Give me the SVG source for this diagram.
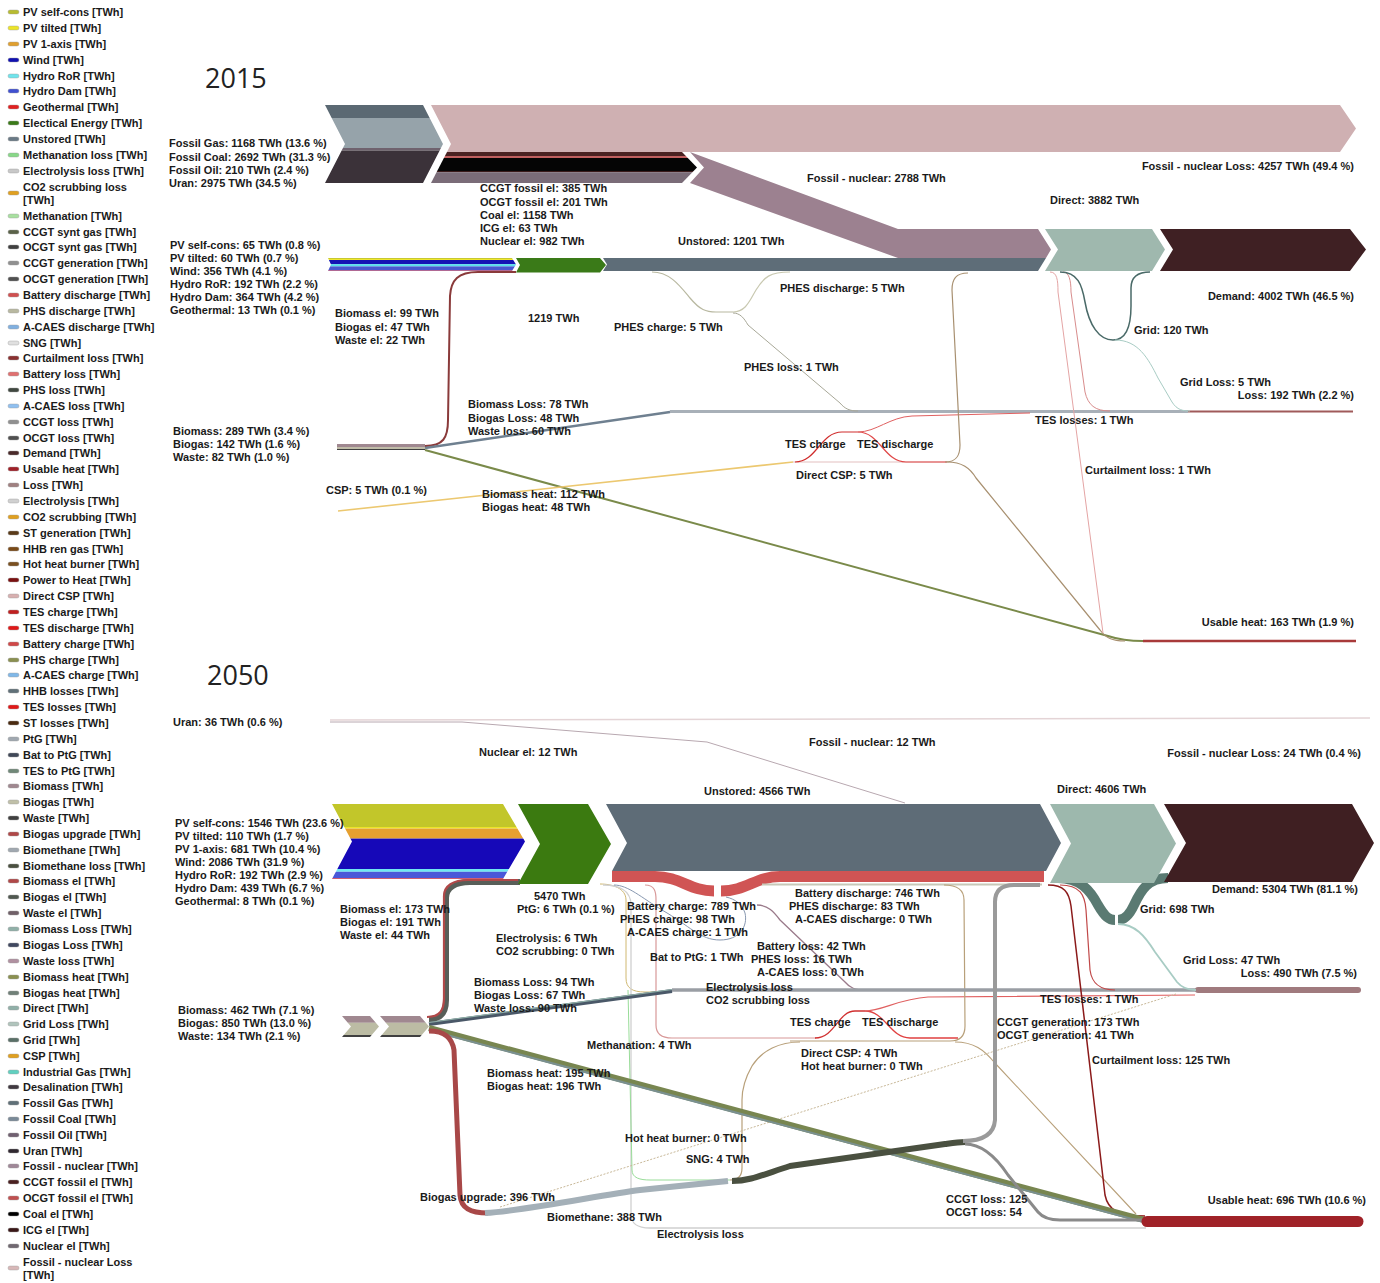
<svg xmlns="http://www.w3.org/2000/svg" width="1380" height="1283" viewBox="0 0 1380 1283">
<style>
.t{font-family:"Liberation Sans",Arial,sans-serif;font-weight:bold;font-size:11px;fill:#1a1a1a}
.e{text-anchor:end}
.yr{font-family:"Open Sans","Liberation Sans",sans-serif;font-size:27px;fill:#222}
.f{fill:none;stroke-linejoin:round}
.sw{stroke:#999;stroke-width:0.4}
</style>
<defs>
<clipPath id="c15fos"><polygon points="325,105 423,105 443,144 423,183 325,183 345,144"/></clipPath>
<clipPath id="c15fnl"><polygon points="447,152 682,152 697,167.5 682,183 431,183"/></clipPath>
<clipPath id="c15ren"><polygon points="328,258 512,258 516,264.5 512,271 328,271 331,264.5"/></clipPath>
<clipPath id="c15bio"><rect x="337" y="444" width="88" height="6"/></clipPath>
<clipPath id="c50ren"><polygon points="332,804 503,804 525,841.5 503,879 332,879 352,841.5"/></clipPath>
<clipPath id="c50bio"><polygon points="342,1016 370,1016 379,1026.5 370,1037 342,1037 351,1026.5 342,1016 380,1016 420,1016 429,1026.5 420,1037 380,1037 389,1026.5 380,1016"/></clipPath>
</defs>
<rect width="1380" height="1283" fill="#fff"/>

<g id="legend" class="t">
<rect class="sw" x="8" y="10" width="11" height="4" rx="2" fill="#b8bc30"/><text x="23" y="16">PV self-cons [TWh]</text>
<rect class="sw" x="8" y="26" width="11" height="4" rx="2" fill="#ece428"/><text x="23" y="32">PV tilted [TWh]</text>
<rect class="sw" x="8" y="42" width="11" height="4" rx="2" fill="#e0a030"/><text x="23" y="48">PV 1-axis [TWh]</text>
<rect class="sw" x="8" y="58" width="11" height="4" rx="2" fill="#1010b0"/><text x="23" y="64">Wind [TWh]</text>
<rect class="sw" x="8" y="74" width="11" height="4" rx="2" fill="#70e4ec"/><text x="23" y="80">Hydro RoR [TWh]</text>
<rect class="sw" x="8" y="89" width="11" height="4" rx="2" fill="#4050d0"/><text x="23" y="95">Hydro Dam [TWh]</text>
<rect class="sw" x="8" y="105" width="11" height="4" rx="2" fill="#e02020"/><text x="23" y="111">Geothermal [TWh]</text>
<rect class="sw" x="8" y="121" width="11" height="4" rx="2" fill="#3a7a18"/><text x="23" y="127">Electical Energy [TWh]</text>
<rect class="sw" x="8" y="137" width="11" height="4" rx="2" fill="#6a7a86"/><text x="23" y="143">Unstored [TWh]</text>
<rect class="sw" x="8" y="153" width="11" height="4" rx="2" fill="#88d888"/><text x="23" y="159">Methanation loss [TWh]</text>
<rect class="sw" x="8" y="169" width="11" height="4" rx="2" fill="#c8c8c8"/><text x="23" y="175">Electrolysis loss [TWh]</text>
<rect class="sw" x="8" y="191" width="11" height="4" rx="2" fill="#e0a020"/><text x="23" y="191">CO2 scrubbing loss</text><text x="23" y="204">[TWh]</text>
<rect class="sw" x="8" y="214" width="11" height="4" rx="2" fill="#a8e0a0"/><text x="23" y="220">Methanation [TWh]</text>
<rect class="sw" x="8" y="230" width="11" height="4" rx="2" fill="#5a6248"/><text x="23" y="236">CCGT synt gas [TWh]</text>
<rect class="sw" x="8" y="245" width="11" height="4" rx="2" fill="#404040"/><text x="23" y="251">OCGT synt gas [TWh]</text>
<rect class="sw" x="8" y="261" width="11" height="4" rx="2" fill="#909090"/><text x="23" y="267">CCGT generation [TWh]</text>
<rect class="sw" x="8" y="277" width="11" height="4" rx="2" fill="#505050"/><text x="23" y="283">OCGT generation [TWh]</text>
<rect class="sw" x="8" y="293" width="11" height="4" rx="2" fill="#d05050"/><text x="23" y="299">Battery discharge [TWh]</text>
<rect class="sw" x="8" y="309" width="11" height="4" rx="2" fill="#b8b8a0"/><text x="23" y="315">PHS discharge [TWh]</text>
<rect class="sw" x="8" y="325" width="11" height="4" rx="2" fill="#80b0e0"/><text x="23" y="331">A-CAES discharge [TWh]</text>
<rect class="sw" x="8" y="341" width="11" height="4" rx="2" fill="#e0e0e0"/><text x="23" y="347">SNG [TWh]</text>
<rect class="sw" x="8" y="356" width="11" height="4" rx="2" fill="#8a3030"/><text x="23" y="362">Curtailment loss [TWh]</text>
<rect class="sw" x="8" y="372" width="11" height="4" rx="2" fill="#e07070"/><text x="23" y="378">Battery loss [TWh]</text>
<rect class="sw" x="8" y="388" width="11" height="4" rx="2" fill="#404840"/><text x="23" y="394">PHS loss [TWh]</text>
<rect class="sw" x="8" y="404" width="11" height="4" rx="2" fill="#90c0f0"/><text x="23" y="410">A-CAES loss [TWh]</text>
<rect class="sw" x="8" y="420" width="11" height="4" rx="2" fill="#909090"/><text x="23" y="426">CCGT loss [TWh]</text>
<rect class="sw" x="8" y="436" width="11" height="4" rx="2" fill="#505050"/><text x="23" y="442">OCGT loss [TWh]</text>
<rect class="sw" x="8" y="451" width="11" height="4" rx="2" fill="#4a2a2a"/><text x="23" y="457">Demand [TWh]</text>
<rect class="sw" x="8" y="467" width="11" height="4" rx="2" fill="#a02028"/><text x="23" y="473">Usable heat [TWh]</text>
<rect class="sw" x="8" y="483" width="11" height="4" rx="2" fill="#a08080"/><text x="23" y="489">Loss [TWh]</text>
<rect class="sw" x="8" y="499" width="11" height="4" rx="2" fill="#d0d0d0"/><text x="23" y="505">Electrolysis [TWh]</text>
<rect class="sw" x="8" y="515" width="11" height="4" rx="2" fill="#e0a020"/><text x="23" y="521">CO2 scrubbing [TWh]</text>
<rect class="sw" x="8" y="531" width="11" height="4" rx="2" fill="#5a3a18"/><text x="23" y="537">ST generation [TWh]</text>
<rect class="sw" x="8" y="547" width="11" height="4" rx="2" fill="#7a4a18"/><text x="23" y="553">HHB ren gas [TWh]</text>
<rect class="sw" x="8" y="562" width="11" height="4" rx="2" fill="#7a5020"/><text x="23" y="568">Hot heat burner [TWh]</text>
<rect class="sw" x="8" y="578" width="11" height="4" rx="2" fill="#7a1010"/><text x="23" y="584">Power to Heat [TWh]</text>
<rect class="sw" x="8" y="594" width="11" height="4" rx="2" fill="#d8b0b0"/><text x="23" y="600">Direct CSP [TWh]</text>
<rect class="sw" x="8" y="610" width="11" height="4" rx="2" fill="#c02020"/><text x="23" y="616">TES charge [TWh]</text>
<rect class="sw" x="8" y="626" width="11" height="4" rx="2" fill="#e01818"/><text x="23" y="632">TES discharge [TWh]</text>
<rect class="sw" x="8" y="642" width="11" height="4" rx="2" fill="#d04848"/><text x="23" y="648">Battery charge [TWh]</text>
<rect class="sw" x="8" y="658" width="11" height="4" rx="2" fill="#8a9050"/><text x="23" y="664">PHS charge [TWh]</text>
<rect class="sw" x="8" y="673" width="11" height="4" rx="2" fill="#80b8e8"/><text x="23" y="679">A-CAES charge [TWh]</text>
<rect class="sw" x="8" y="689" width="11" height="4" rx="2" fill="#607078"/><text x="23" y="695">HHB losses [TWh]</text>
<rect class="sw" x="8" y="705" width="11" height="4" rx="2" fill="#e01818"/><text x="23" y="711">TES losses [TWh]</text>
<rect class="sw" x="8" y="721" width="11" height="4" rx="2" fill="#4a2a10"/><text x="23" y="727">ST losses [TWh]</text>
<rect class="sw" x="8" y="737" width="11" height="4" rx="2" fill="#a0a8b0"/><text x="23" y="743">PtG [TWh]</text>
<rect class="sw" x="8" y="753" width="11" height="4" rx="2" fill="#404858"/><text x="23" y="759">Bat to PtG [TWh]</text>
<rect class="sw" x="8" y="769" width="11" height="4" rx="2" fill="#708878"/><text x="23" y="775">TES to PtG [TWh]</text>
<rect class="sw" x="8" y="784" width="11" height="4" rx="2" fill="#a08890"/><text x="23" y="790">Biomass [TWh]</text>
<rect class="sw" x="8" y="800" width="11" height="4" rx="2" fill="#c0c0a8"/><text x="23" y="806">Biogas [TWh]</text>
<rect class="sw" x="8" y="816" width="11" height="4" rx="2" fill="#404040"/><text x="23" y="822">Waste [TWh]</text>
<rect class="sw" x="8" y="832" width="11" height="4" rx="2" fill="#b04848"/><text x="23" y="838">Biogas upgrade [TWh]</text>
<rect class="sw" x="8" y="848" width="11" height="4" rx="2" fill="#a0a8b0"/><text x="23" y="854">Biomethane [TWh]</text>
<rect class="sw" x="8" y="864" width="11" height="4" rx="2" fill="#4a5040"/><text x="23" y="870">Biomethane loss [TWh]</text>
<rect class="sw" x="8" y="879" width="11" height="4" rx="2" fill="#b04848"/><text x="23" y="885">Biomass el [TWh]</text>
<rect class="sw" x="8" y="895" width="11" height="4" rx="2" fill="#505850"/><text x="23" y="901">Biogas el [TWh]</text>
<rect class="sw" x="8" y="911" width="11" height="4" rx="2" fill="#706068"/><text x="23" y="917">Waste el [TWh]</text>
<rect class="sw" x="8" y="927" width="11" height="4" rx="2" fill="#90b0a8"/><text x="23" y="933">Biomass Loss [TWh]</text>
<rect class="sw" x="8" y="943" width="11" height="4" rx="2" fill="#404860"/><text x="23" y="949">Biogas Loss [TWh]</text>
<rect class="sw" x="8" y="959" width="11" height="4" rx="2" fill="#b090a0"/><text x="23" y="965">Waste loss [TWh]</text>
<rect class="sw" x="8" y="975" width="11" height="4" rx="2" fill="#8a9050"/><text x="23" y="981">Biomass heat [TWh]</text>
<rect class="sw" x="8" y="991" width="11" height="4" rx="2" fill="#708078"/><text x="23" y="997">Biogas heat [TWh]</text>
<rect class="sw" x="8" y="1006" width="11" height="4" rx="2" fill="#90b0a8"/><text x="23" y="1012">Direct [TWh]</text>
<rect class="sw" x="8" y="1022" width="11" height="4" rx="2" fill="#b0c4bc"/><text x="23" y="1028">Grid Loss [TWh]</text>
<rect class="sw" x="8" y="1038" width="11" height="4" rx="2" fill="#5a7068"/><text x="23" y="1044">Grid [TWh]</text>
<rect class="sw" x="8" y="1054" width="11" height="4" rx="2" fill="#e0a020"/><text x="23" y="1060">CSP [TWh]</text>
<rect class="sw" x="8" y="1070" width="11" height="4" rx="2" fill="#60d0c0"/><text x="23" y="1076">Industrial Gas [TWh]</text>
<rect class="sw" x="8" y="1085" width="11" height="4" rx="2" fill="#403840"/><text x="23" y="1091">Desalination [TWh]</text>
<rect class="sw" x="8" y="1101" width="11" height="4" rx="2" fill="#607078"/><text x="23" y="1107">Fossil Gas [TWh]</text>
<rect class="sw" x="8" y="1117" width="11" height="4" rx="2" fill="#7a8a98"/><text x="23" y="1123">Fossil Coal [TWh]</text>
<rect class="sw" x="8" y="1133" width="11" height="4" rx="2" fill="#706070"/><text x="23" y="1139">Fossil Oil [TWh]</text>
<rect class="sw" x="8" y="1149" width="11" height="4" rx="2" fill="#302830"/><text x="23" y="1155">Uran [TWh]</text>
<rect class="sw" x="8" y="1164" width="11" height="4" rx="2" fill="#a08898"/><text x="23" y="1170">Fossil - nuclear [TWh]</text>
<rect class="sw" x="8" y="1180" width="11" height="4" rx="2" fill="#4a2020"/><text x="23" y="1186">CCGT fossil el [TWh]</text>
<rect class="sw" x="8" y="1196" width="11" height="4" rx="2" fill="#c05050"/><text x="23" y="1202">OCGT fossil el [TWh]</text>
<rect class="sw" x="8" y="1212" width="11" height="4" rx="2" fill="#000000"/><text x="23" y="1218">Coal el [TWh]</text>
<rect class="sw" x="8" y="1228" width="11" height="4" rx="2" fill="#3a1818"/><text x="23" y="1234">ICG el [TWh]</text>
<rect class="sw" x="8" y="1244" width="11" height="4" rx="2" fill="#706870"/><text x="23" y="1250">Nuclear el [TWh]</text>
<rect class="sw" x="8" y="1266" width="11" height="4" rx="2" fill="#d8b8b8"/><text x="23" y="1266">Fossil - nuclear Loss</text><text x="23" y="1279">[TWh]</text>
</g>

<text class="yr" x="205" y="88">2015</text>
<text class="yr" x="207" y="685">2050</text>

<!-- ================= 2015 connectors ================= -->
<g id="connectors-2015">
<polygon points="690,152 898,229 1038,229 1051,249.5 1046,258 898,258 690,183 704,167.5" fill="#9c8190"/>
<path class="f" d="M425,446 C443,446 448,438 448,420 L450,296 C451,280 458,272 478,272 L516,272" stroke="#8a3a3a" stroke-width="2"/>
<path class="f" d="M425,448 L670,412" stroke="#6f8090" stroke-width="2.5"/>
<path class="f" d="M670,411.5 L1188,411.5" stroke="#a8b0b8" stroke-width="3"/>
<path class="f" d="M1188,411.5 L1353,411.5" stroke="#a05a5a" stroke-width="1.8"/>
<path class="f" d="M425,450 L1108,636 C1120,640 1128,641 1143,641" stroke="#7a8a4a" stroke-width="2"/>
<path class="f" d="M1143,641 L1356,641" stroke="#a83a3a" stroke-width="2.5"/>
<path class="f" d="M338,511 L793,462" stroke="#ecc870" stroke-width="1.6"/>
<path class="f" d="M793,462 L947,462" stroke="#ecd4d4" stroke-width="1.6"/>
<path class="f" d="M795,462 C817,462 820,432 842,432 L858,432" stroke="#d02c2c" stroke-width="1.2"/>
<path class="f" d="M858,432 C880,432 884,462 906,462 L947,462" stroke="#e04848" stroke-width="1.2"/>
<path class="f" d="M858,432 C876,432 890,417 912,416 L1030,413" stroke="#e06060" stroke-width="1"/>
<path class="f" d="M945,462 C957,462 960,455 960,445 L952,290 C952,279 956,273 968,273" stroke="#a89070" stroke-width="1.2"/>
<path class="f" d="M947,462 C962,462 970,468 976,478 L1100,630 C1106,638 1112,641 1125,641" stroke="#a89070" stroke-width="1.2"/>
<path class="f" d="M1050,272 C1057,272 1058,280 1058,292 L1103,633" stroke="#e4a4a4" stroke-width="1"/>
<path class="f" d="M1063,272 C1069,272 1071,280 1071,292 L1085,392 C1088,405 1095,411 1110,411" stroke="#d88c8c" stroke-width="1"/>
<path class="f" d="M1060,272 C1078,272 1082,285 1085,302 C1089,325 1099,340 1113,340 C1127,340 1131,326 1131,306 L1131,288 C1131,278 1136,272 1150,272" stroke="#4a6a68" stroke-width="1.5"/>
<path class="f" d="M1115,340 C1138,340 1148,358 1158,378 L1172,402 C1177,410 1183,411 1190,411" stroke="#a8ccc4" stroke-width="1"/>
<path class="f" d="M652,272 C670,272 680,286 690,298 C700,310 706,312 716,312 L733,312" stroke="#b8b8a0" stroke-width="1.2"/>
<path class="f" d="M733,312 C746,312 750,300 756,290 C764,277 770,272 790,272" stroke="#c8c8b0" stroke-width="1.2"/>
<path class="f" d="M733,313 C740,313 744,318 748,325 L840,403 C845,409 850,411 858,411" stroke="#a8a898" stroke-width="1"/>
</g>

<!-- ================= 2015 nodes ================= -->
<g id="n2015-fossil">
<g clip-path="url(#c15fos)">
<rect x="320" y="105" width="130" height="13" fill="#5b6973"/>
<rect x="320" y="118" width="130" height="30" fill="#96a3aa"/>
<rect x="320" y="148" width="130" height="2.5" fill="#6f626e"/>
<rect x="320" y="150.5" width="130" height="33" fill="#3b3239"/>
</g>
<text class="t" x="169" y="147">Fossil Gas: 1168 TWh (13.6 %)</text>
<text class="t" x="169" y="160.5">Fossil Coal: 2692 TWh (31.3 %)</text>
<text class="t" x="169" y="174">Fossil Oil: 210 TWh (2.4 %)</text>
<text class="t" x="169" y="187">Uran: 2975 TWh (34.5 %)</text>
</g>
<g id="n2015-fossil-nuclear">
<polygon points="431,105 1340,105 1356,128.5 1340,152 447,152 451,144" fill="#cfb0b2"/>
<g clip-path="url(#c15fnl)">
<rect x="425" y="152" width="280" height="4" fill="#4a2222"/>
<rect x="425" y="156" width="280" height="2" fill="#c06060"/>
<rect x="425" y="158" width="280" height="13" fill="#050505"/>
<rect x="425" y="171" width="280" height="1.2" fill="#3a1a1a"/>
<rect x="425" y="172.2" width="280" height="11" fill="#7a6c78"/>
</g>
<text class="t" x="480" y="192">CCGT fossil el: 385 TWh</text>
<text class="t" x="480" y="205.5">OCGT fossil el: 201 TWh</text>
<text class="t" x="480" y="218.5">Coal el: 1158 TWh</text>
<text class="t" x="480" y="232">ICG el: 63 TWh</text>
<text class="t" x="480" y="245">Nuclear el: 982 TWh</text>
<text class="t" x="807" y="182">Fossil - nuclear: 2788 TWh</text>
<text class="t e" x="1354" y="170">Fossil - nuclear Loss: 4257 TWh (49.4 %)</text>
</g>
<g id="n2015-renewables">
<g clip-path="url(#c15ren)">
<rect x="325" y="258" width="195" height="1" fill="#c8c830"/>
<rect x="325" y="259" width="195" height="1" fill="#f0e830"/>
<rect x="325" y="260" width="195" height="4.2" fill="#1414b4"/>
<rect x="325" y="264.2" width="195" height="2.2" fill="#58e0ec"/>
<rect x="325" y="266.4" width="195" height="4.2" fill="#4858d0"/>
<rect x="325" y="270.6" width="195" height="0.6" fill="#e02020"/>
</g>
<text class="t" x="170" y="249">PV self-cons: 65 TWh (0.8 %)</text>
<text class="t" x="170" y="262">PV tilted: 60 TWh (0.7 %)</text>
<text class="t" x="170" y="275">Wind: 356 TWh (4.1 %)</text>
<text class="t" x="170" y="288">Hydro RoR: 192 TWh (2.2 %)</text>
<text class="t" x="170" y="301">Hydro Dam: 364 TWh (4.2 %)</text>
<text class="t" x="170" y="314">Geothermal: 13 TWh (0.1 %)</text>
</g>
<g id="n2015-electrical">
<polygon points="516,258 600,258 606,265 600,272.5 516,272.5 520,265" fill="#3a7a18"/>
<text class="t" x="528" y="322">1219 TWh</text>
</g>
<g id="n2015-unstored">
<polygon points="603,258 1046,258 1038,271 603,271 607,264.5" fill="#5e6d78"/>
<text class="t" x="678" y="245">Unstored: 1201 TWh</text>
<text class="t" x="614" y="331">PHES charge: 5 TWh</text>
<text class="t" x="780" y="292">PHES discharge: 5 TWh</text>
<text class="t" x="744" y="371">PHES loss: 1 TWh</text>
</g>
<g id="n2015-direct">
<polygon points="1045,229 1152,229 1165,249.5 1152,271 1045,271 1058,249.5" fill="#9fb8ae"/>
<text class="t" x="1050" y="204">Direct: 3882 TWh</text>
<text class="t" x="1134" y="334">Grid: 120 TWh</text>
<text class="t" x="1180" y="386">Grid Loss: 5 TWh</text>
<text class="t" x="1085" y="474">Curtailment loss: 1 TWh</text>
</g>
<g id="n2015-demand">
<polygon points="1160,229 1350,229 1366,249.5 1350,271 1160,271 1173,249.5" fill="#3f2023"/>
<text class="t e" x="1354" y="300">Demand: 4002 TWh (46.5 %)</text>
</g>
<g id="n2015-bio">
<g clip-path="url(#c15bio)">
<rect x="337" y="444" width="88" height="3" fill="#a08890"/>
<rect x="337" y="447" width="88" height="2" fill="#c0bca8"/>
<rect x="337" y="449" width="88" height="1" fill="#404040"/>
</g>
<text class="t" x="335" y="317">Biomass el: 99 TWh</text>
<text class="t" x="335" y="331">Biogas el: 47 TWh</text>
<text class="t" x="335" y="344">Waste el: 22 TWh</text>
<text class="t" x="468" y="408">Biomass Loss: 78 TWh</text>
<text class="t" x="468" y="422">Biogas Loss: 48 TWh</text>
<text class="t" x="468" y="435">Waste loss: 60 TWh</text>
<text class="t" x="173" y="435">Biomass: 289 TWh (3.4 %)</text>
<text class="t" x="173" y="448">Biogas: 142 TWh (1.6 %)</text>
<text class="t" x="173" y="461">Waste: 82 TWh (1.0 %)</text>
<text class="t" x="482" y="498">Biomass heat: 112 TWh</text>
<text class="t" x="482" y="511">Biogas heat: 48 TWh</text>
</g>
<g id="n2015-csp">
<text class="t" x="326" y="494">CSP: 5 TWh (0.1 %)</text>
<text class="t" x="785" y="448">TES charge</text>
<text class="t" x="857" y="448">TES discharge</text>
<text class="t" x="796" y="479">Direct CSP: 5 TWh</text>
<text class="t" x="1035" y="424">TES losses: 1 TWh</text>
</g>
<g id="n2015-loss">
<text class="t e" x="1354" y="399">Loss: 192 TWh (2.2 %)</text>
</g>
<g id="n2015-usable-heat">
<text class="t e" x="1354" y="626">Usable heat: 163 TWh (1.9 %)</text>
</g>

<!-- ================= 2050 connectors ================= -->
<g id="connectors-2050">
<path class="f" d="M330,720 L1370,718" stroke="#e4d4d6" stroke-width="1.5"/>
<path class="f" d="M330,722 L462,722 L707,742 L905,803" stroke="#b8a8b0" stroke-width="1"/>
<path class="f" d="M612,876.5 L655,876.5 C680,876.5 690,891 714,891" stroke="#d05454" stroke-width="11"/>
<path class="f" d="M721,891 C746,891 756,876.5 780,876.5 L1044,876.5" stroke="#d05454" stroke-width="11"/>
<path class="f" d="M762,884.5 L1042,884.5" stroke="#c8c8b8" stroke-width="2"/>
<path class="f" d="M600,884 C612,884 626,888 626,900 L626,978 C626,988 632,992 645,992 L672,992" stroke="#d0b870" stroke-width="1"/>
<path class="f" d="M603,885 C618,885 631,890 631,905 L631,1214 C631,1224 637,1228 650,1228 L1146,1228" stroke="#d0d0d0" stroke-width="1.3"/>
<path class="f" d="M628,990 L632,1170 C632,1178 640,1180 650,1180 L730,1180" stroke="#98dc98" stroke-width="1"/>
<path class="f" d="M614,885 C628,885 642,898 662,910 C690,926 700,940 720,940 C740,940 748,926 745,913 C742,904 735,899 726,897" stroke="#8898b0" stroke-width="1"/>
<path class="f" d="M757,905 C768,905 774,912 780,920 L845,982 C850,988 855,990 865,990" stroke="#9a7a8a" stroke-width="1.3"/>
<path class="f" d="M645,885 C655,885 656,892 656,900 L656,1025 C656,1034 662,1038 672,1038 L816,1038" stroke="#d89898" stroke-width="1.2"/>
<path class="f" d="M815,1038 C835,1038 838,1011 855,1011 L865,1011" stroke="#d03030" stroke-width="1.3"/>
<path class="f" d="M865,1011 C885,1011 890,1038 910,1038 L958,1038" stroke="#e04040" stroke-width="1.3"/>
<path class="f" d="M865,1011 C882,1011 898,999 928,997 L1195,995" stroke="#e06060" stroke-width="1.2"/>
<path class="f" d="M944,885 C958,885 964,890 964,900 L965,1026 C965,1036 960,1041 950,1041 L790,1041" stroke="#b8a07a" stroke-width="1.2"/>
<path class="f" d="M800,1042 C780,1042 762,1050 752,1066 C744,1080 742,1090 742,1100 L742,1168 C742,1176 738,1180 730,1180" stroke="#b8a07a" stroke-width="1.2"/>
<path class="f" d="M955,1042 C974,1042 984,1050 994,1062 L1136,1214" stroke="#b8a07a" stroke-width="1.1"/>
<path class="f" d="M500,1207 L1176,994" stroke="#c8b898" stroke-width="1" stroke-dasharray="2 1.5"/>
<path class="f" d="M672,990 L1196,990" stroke="#9a9ea4" stroke-width="3.5"/>
<path class="f" d="M1198,990 L1358,990" stroke="#a07a7e" stroke-width="6" stroke-linecap="round"/>
<path class="f" d="M1058,878 C1080,878 1090,890 1098,905 C1105,917 1109,920 1115,920" stroke="#5a7a72" stroke-width="10"/>
<path class="f" d="M1118,920 C1124,920 1129,916 1134,905 C1141,890 1148,878 1168,878" stroke="#5a7a72" stroke-width="10"/>
<path class="f" d="M1118,924 C1135,924 1145,936 1155,952 L1177,982 C1182,988 1188,990 1196,990" stroke="#a8ccc4" stroke-width="1.8"/>
<path class="f" d="M1048,885 C1064,885 1069,892 1071,906 L1105,1195 C1108,1210 1118,1216 1145,1216" stroke="#8b1a1a" stroke-width="1.5"/>
<path class="f" d="M1060,885 C1080,885 1085,895 1086,910 L1090,970 C1092,984 1100,990 1115,990" stroke="#c04848" stroke-width="1.2"/>
<path class="f" d="M429,1019 C442,1019 446,1012 446,1000 L446,898 C446,888 455,882 470,882 L520,882" stroke="#585e58" stroke-width="6"/>
<path class="f" d="M429,1019 C442,1019 446,1012 446,1000 L446,898 C446,888 455,882 470,882 L520,882" stroke="#b04848" stroke-width="2.2" transform="translate(-2,-2)"/>
<path class="f" d="M429,1024 L672,991" stroke="#4a5868" stroke-width="4"/>
<path class="f" d="M429,1024 L672,991" stroke="#90b0a8" stroke-width="1.2" transform="translate(0,-1.5)"/>
<path class="f" d="M429,1028 L1148,1221" stroke="#788650" stroke-width="6"/>
<path class="f" d="M429,1028 L1148,1221" stroke="#7a9090" stroke-width="2" transform="translate(0,2.2)"/>
<path class="f" d="M429,1031 C445,1031 452,1038 454,1050 L460,1195 C461,1208 470,1213 488,1213" stroke="#a84848" stroke-width="5"/>
<path class="f" d="M485,1213 C530,1210 600,1195 640,1190 L728,1181" stroke="#a4b0b8" stroke-width="6"/>
<path class="f" d="M732,1181 C750,1181 762,1175 790,1166 L945,1144 C952,1143 958,1142 965,1142" stroke="#4a5040" stroke-width="6"/>
<path class="f" d="M963,1141 C983,1141 994,1134 995,1120 L995,902 C995,891 1001,885 1014,885 L1040,885" stroke="#9a9a9a" stroke-width="4"/>
<path class="f" d="M965,1144 C984,1144 998,1160 1008,1175 L1038,1212 C1043,1218 1050,1220 1060,1220 L1148,1220" stroke="#8a8a8a" stroke-width="3"/>
</g>

<!-- ================= 2050 nodes ================= -->
<g id="n2050-uran">
<text class="t" x="173" y="726">Uran: 36 TWh (0.6 %)</text>
<text class="t" x="479" y="756">Nuclear el: 12 TWh</text>
<text class="t" x="809" y="746">Fossil - nuclear: 12 TWh</text>
<text class="t e" x="1361" y="757">Fossil - nuclear Loss: 24 TWh (0.4 %)</text>
</g>
<g id="n2050-renewables">
<g clip-path="url(#c50ren)">
<rect x="330" y="804" width="200" height="23" fill="#c2c62a"/>
<rect x="330" y="827" width="200" height="1.6" fill="#ece428"/>
<rect x="330" y="828.6" width="200" height="10" fill="#e6a030"/>
<rect x="330" y="838.6" width="200" height="30.4" fill="#1608b8"/>
<rect x="330" y="869" width="200" height="2.8" fill="#70e8f0"/>
<rect x="330" y="871.8" width="200" height="6.6" fill="#4a58d8"/>
<rect x="330" y="878.4" width="200" height="0.8" fill="#e02020"/>
</g>
<text class="t" x="175" y="827">PV self-cons: 1546 TWh (23.6 %)</text>
<text class="t" x="175" y="840">PV tilted: 110 TWh (1.7 %)</text>
<text class="t" x="175" y="853">PV 1-axis: 681 TWh (10.4 %)</text>
<text class="t" x="175" y="866">Wind: 2086 TWh (31.9 %)</text>
<text class="t" x="175" y="879">Hydro RoR: 192 TWh (2.9 %)</text>
<text class="t" x="175" y="892">Hydro Dam: 439 TWh (6.7 %)</text>
<text class="t" x="175" y="905">Geothermal: 8 TWh (0.1 %)</text>
</g>
<g id="n2050-electrical">
<polygon points="518,804 588,804 611,844 588,884 518,884 540,844" fill="#3b7a10"/>
<text class="t" x="534" y="900">5470 TWh</text>
<text class="t" x="517" y="913">PtG: 6 TWh (0.1 %)</text>
<text class="t" x="496" y="942">Electrolysis: 6 TWh</text>
<text class="t" x="496" y="955">CO2 scrubbing: 0 TWh</text>
</g>
<g id="n2050-unstored">
<polygon points="606,804 1040,804 1061,843 1046,871 612,871 627,843" fill="#5e6c77"/>
<text class="t" x="704" y="795">Unstored: 4566 TWh</text>
<text class="t" x="627" y="910">Battery charge: 789 TWh</text>
<text class="t" x="620" y="923">PHES charge: 98 TWh</text>
<text class="t" x="627" y="936">A-CAES charge: 1 TWh</text>
<text class="t" x="795" y="897">Battery discharge: 746 TWh</text>
<text class="t" x="789" y="910">PHES discharge: 83 TWh</text>
<text class="t" x="795" y="923">A-CAES discharge: 0 TWh</text>
<text class="t" x="650" y="961">Bat to PtG: 1 TWh</text>
<text class="t" x="757" y="950">Battery loss: 42 TWh</text>
<text class="t" x="751" y="963">PHES loss: 16 TWh</text>
<text class="t" x="757" y="976">A-CAES loss: 0 TWh</text>
<text class="t" x="706" y="991">Electrolysis loss</text>
<text class="t" x="706" y="1004">CO2 scrubbing loss</text>
</g>
<g id="n2050-direct">
<polygon points="1050,804 1154,804 1176,843.5 1154,883 1050,883 1071,843.5" fill="#9db8ad"/>
<text class="t" x="1057" y="793">Direct: 4606 TWh</text>
<text class="t" x="1140" y="913">Grid: 698 TWh</text>
<text class="t" x="1183" y="964">Grid Loss: 47 TWh</text>
<text class="t" x="1092" y="1064">Curtailment loss: 125 TWh</text>
</g>
<g id="n2050-demand">
<polygon points="1164,804 1352,804 1374,843 1352,882 1164,882 1186,843" fill="#3f1f22"/>
<text class="t e" x="1358" y="893">Demand: 5304 TWh (81.1 %)</text>
</g>
<g id="n2050-bio">
<g clip-path="url(#c50bio)">
<rect x="340" y="1016" width="92" height="6.8" fill="#a08890"/>
<rect x="340" y="1022.8" width="92" height="12.2" fill="#bcbca4"/>
<rect x="340" y="1035" width="92" height="2" fill="#404040"/>
</g>
<text class="t" x="340" y="913">Biomass el: 173 TWh</text>
<text class="t" x="340" y="926">Biogas el: 191 TWh</text>
<text class="t" x="340" y="939">Waste el: 44 TWh</text>
<text class="t" x="474" y="986">Biomass Loss: 94 TWh</text>
<text class="t" x="474" y="999">Biogas Loss: 67 TWh</text>
<text class="t" x="474" y="1012">Waste loss: 90 TWh</text>
<text class="t" x="178" y="1014">Biomass: 462 TWh (7.1 %)</text>
<text class="t" x="178" y="1027">Biogas: 850 TWh (13.0 %)</text>
<text class="t" x="178" y="1040">Waste: 134 TWh (2.1 %)</text>
<text class="t" x="487" y="1077">Biomass heat: 195 TWh</text>
<text class="t" x="487" y="1090">Biogas heat: 196 TWh</text>
<text class="t" x="420" y="1201">Biogas upgrade: 396 TWh</text>
<text class="t" x="547" y="1221">Biomethane: 388 TWh</text>
</g>
<g id="n2050-tes">
<text class="t" x="1040" y="1003">TES losses: 1 TWh</text>
<text class="t" x="790" y="1026">TES charge</text>
<text class="t" x="862" y="1026">TES discharge</text>
<text class="t" x="801" y="1057">Direct CSP: 4 TWh</text>
<text class="t" x="801" y="1070">Hot heat burner: 0 TWh</text>
</g>
<g id="n2050-gas">
<text class="t" x="997" y="1026">CCGT generation: 173 TWh</text>
<text class="t" x="997" y="1039">OCGT generation: 41 TWh</text>
<text class="t" x="587" y="1049">Methanation: 4 TWh</text>
<text class="t" x="625" y="1142">Hot heat burner: 0 TWh</text>
<text class="t" x="686" y="1163">SNG: 4 TWh</text>
<text class="t" x="946" y="1203">CCGT loss: 125</text>
<text class="t" x="946" y="1216">OCGT loss: 54</text>
<text class="t" x="657" y="1238">Electrolysis loss</text>
</g>
<g id="n2050-loss">
<text class="t e" x="1357" y="977">Loss: 490 TWh (7.5 %)</text>
</g>
<g id="n2050-usable-heat">
<path d="M1147,1221.5 L1358,1221.5" stroke="#a02228" stroke-width="11" stroke-linecap="round" fill="none"/>
<text class="t e" x="1366" y="1204">Usable heat: 696 TWh (10.6 %)</text>
</g>
</svg>
